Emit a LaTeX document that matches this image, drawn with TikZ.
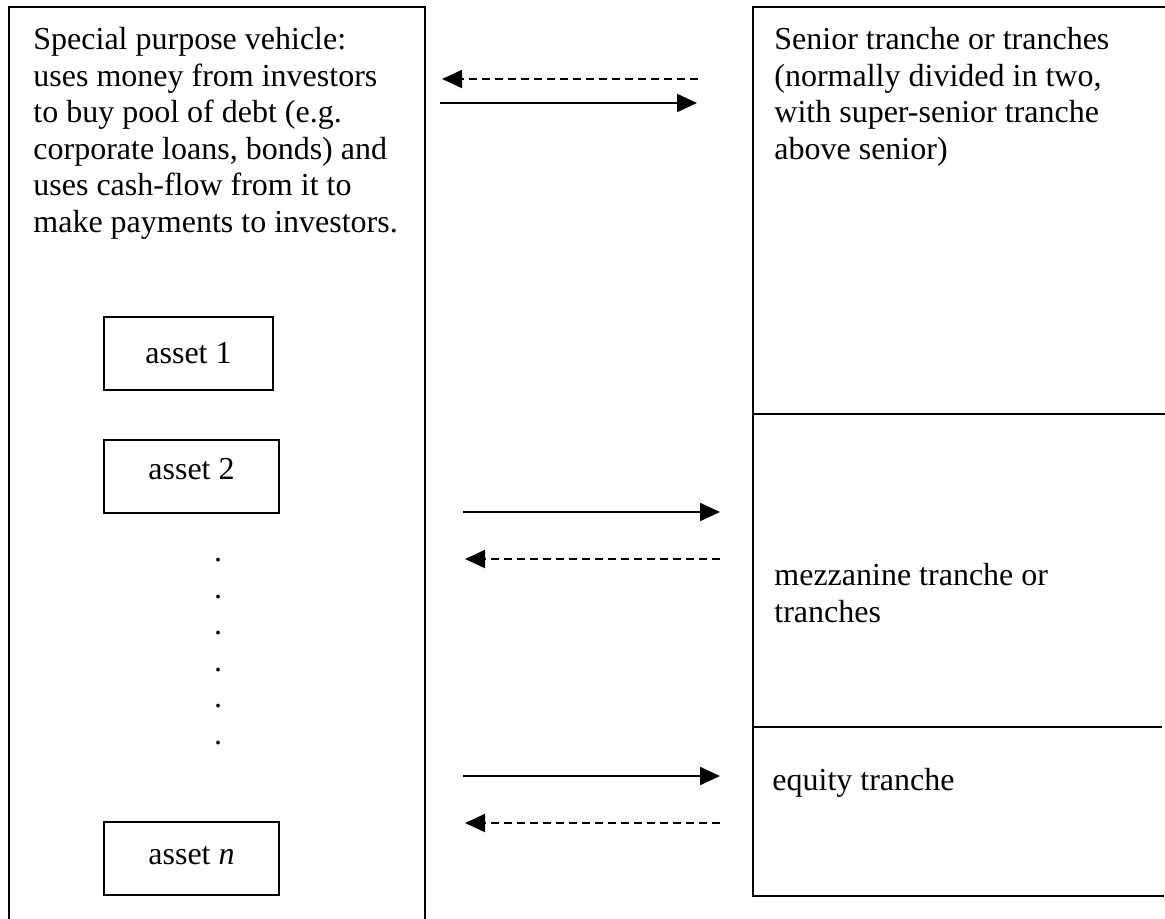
\documentclass[tikz,border=0pt]{standalone}
\usepackage{fontspec}
\setmainfont{Liberation Serif}
\usetikzlibrary{arrows.meta}
\begin{document}
\begin{tikzpicture}[x=0.5pt,y=-0.5pt,
  frame/.style={line width=1pt,line cap=rect},
  txt/.style={inner sep=0pt,align=left,anchor=north west,font=\fontsize{16}{18.25}\selectfont},
  assetbox/.style={draw,line width=1pt,inner sep=0pt,minimum width=87.5pt,minimum height=36.5pt,
     text height=10pt,text depth=7pt,font=\fontsize{16}{18.25}\selectfont},
  dotnode/.style={inner sep=0pt,anchor=base,font=\fontsize{16}{18.25}\selectfont},
  flow/.style={line width=1pt,-{Triangle[length=10pt,width=9pt]}},
  back/.style={flow,dash pattern=on 4pt off 2.5pt}]
\useasboundingbox (0,0) rectangle (1165,918);
% left frame (open at the bottom)
\draw[frame] (9,930) -- (9,7) -- (425,7) -- (425,930);
% right frame
\draw[frame] (1175,7) -- (753,7) -- (753,896) -- (1163,896);
\draw[frame] (753,414) -- (1175,414);
\draw[frame] (753,727) -- (1161,727);
% texts
\node[txt] (spv) at (33,27) {Special purpose vehicle:\\uses money from investors\\to buy pool of debt (e.g.\\corporate loans, bonds) and\\uses cash-flow from it to\\make payments to investors.};
\node[txt] (senior) at (774,27) {Senior tranche or tranches\\(normally divided in two,\\with super-senior tranche\\above senior)};
\node[txt] (mezz) at (774,563) {mezzanine tranche or\\tranches};
\node[txt] (equity) at (772,768) {equity tranche};
% assets
\node[assetbox,minimum width=84.5pt,text height=11pt,text depth=1pt] (a1) at (188.5,353.5) {asset 1};
\node[assetbox] (a2) at (191.5,476) {asset 2};
\node[assetbox,text height=11pt,text depth=5.5pt] (an) at (191.5,858.5) {asset \textit{n}};
% dots
\node[dotnode] (d1) at (218,561) {.};
\node[dotnode] (d2) at (218,598) {.};
\node[dotnode] (d3) at (218,634) {.};
\node[dotnode] (d4) at (218,671) {.};
\node[dotnode] (d5) at (218,707) {.};
\node[dotnode] (d6) at (218,744) {.};
% arrow end points
\coordinate (s1) at (698,79);  \coordinate (s2) at (442,79);
\coordinate (s3) at (440,103); \coordinate (s4) at (697,103);
\coordinate (m1) at (463,512); \coordinate (m2) at (720,512);
\coordinate (m3) at (720,559); \coordinate (m4) at (465,559);
\coordinate (e1) at (463,776); \coordinate (e2) at (720,776);
\coordinate (e3) at (720,823); \coordinate (e4) at (465,823);
\draw[back] (s1) -- (s2);
\draw[flow] (s3) -- (s4);
\draw[flow] (m1) -- (m2);
\draw[back] (m3) -- (m4);
\draw[flow] (e1) -- (e2);
\draw[back] (e3) -- (e4);
\end{tikzpicture}
\end{document}
